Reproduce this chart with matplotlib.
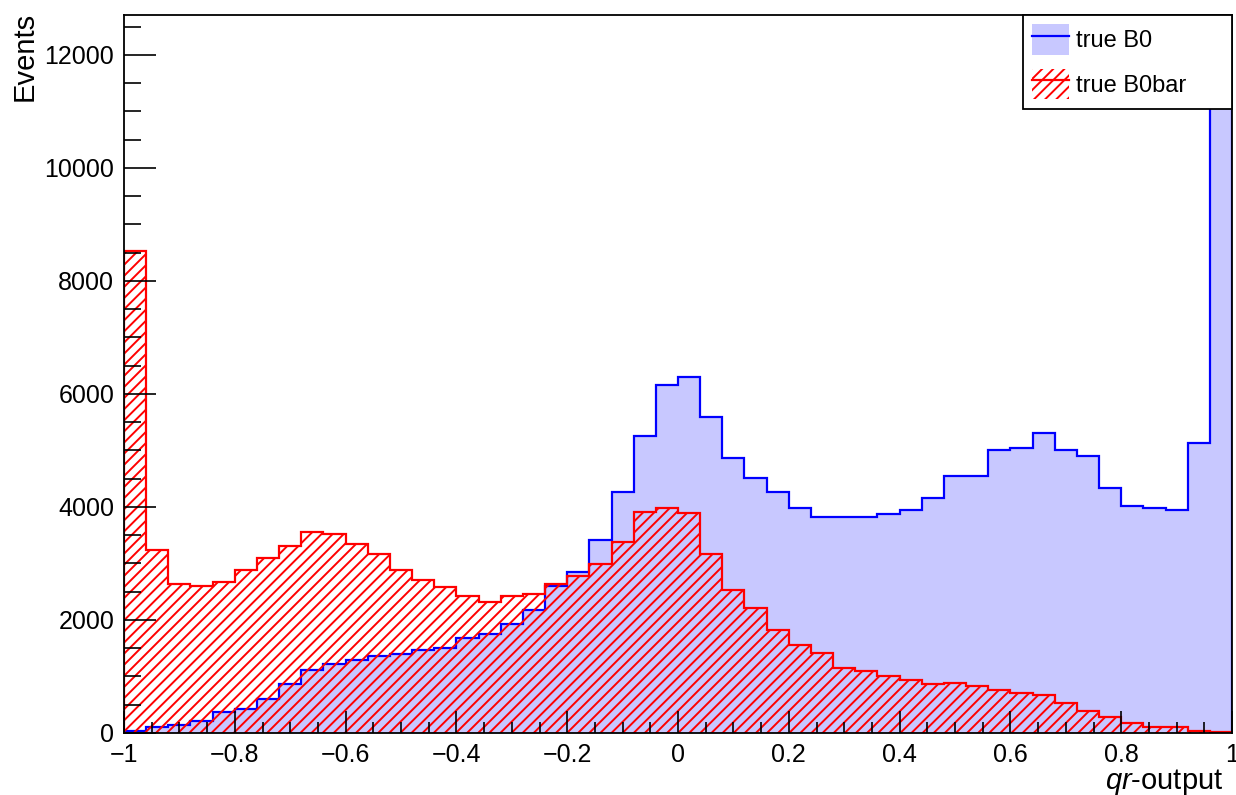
import numpy as np
import matplotlib
matplotlib.use("Agg")
import matplotlib.pyplot as plt
from matplotlib.patches import Patch
from matplotlib.lines import Line2D
from matplotlib.ticker import MultipleLocator, FuncFormatter

plt.rcParams["font.family"] = ["Liberation Sans", "DejaVu Sans"]
plt.rcParams["mathtext.fontset"] = "custom"
plt.rcParams["mathtext.it"] = "Liberation Sans:italic"
plt.rcParams["mathtext.rm"] = "Liberation Sans"
plt.rcParams["hatch.linewidth"] = 1.4

# 50 bins of qr-output between -1 and 1
bin_edges = np.linspace(-1, 1, 51)

true_b0 = [35, 106, 147, 213, 367, 431, 608, 863, 1111, 1217,
           1288, 1359, 1394, 1465, 1501, 1678, 1749, 1937, 2174, 2605,
           2848, 3418, 4272, 5264, 6156, 6298, 5583, 4874, 4520, 4272,
           3988, 3816, 3816, 3816, 3876, 3947, 4165, 4555, 4555, 5016,
           5051, 5305, 5016, 4910, 4342, 4018, 3988, 3953, 5128, 12100]

true_b0bar = [8530, 3238, 2635, 2600, 2676, 2884, 3096, 3314, 3557, 3527,
              3344, 3173, 2884, 2712, 2576, 2423, 2322, 2423, 2458, 2641,
              2777, 2985, 3380, 3908, 3982, 3885, 3173, 2529, 2210, 1820,
              1560, 1423, 1146, 1099, 1010, 937, 863, 892, 828, 757,
              715, 679, 532, 390, 289, 177, 112, 106, 41, 10]

labels = ["true B0", "true B0bar"]
fill_blue = "#c8c8ff"


def tick_fmt(v, pos):
    if abs(v) < 1e-9:
        return "0"
    if abs(abs(v) - 1) < 1e-9:
        s = "1"
    else:
        s = f"{abs(v):.1f}"
    return ("\u2212" + s) if v < 0 else s


fig = plt.figure(figsize=(12.36, 7.95), dpi=100)
ax = fig.add_axes([124 / 1236, 62 / 795, 1108 / 1236, 718 / 795])

# blue histogram: filled + outline
ax.stairs(true_b0, bin_edges, fill=True, facecolor=fill_blue, linewidth=0)
ax.stairs(true_b0, bin_edges, color="blue", linewidth=1.6)

# red histogram: hatched, no background
ax.stairs(true_b0bar, bin_edges, fill=True, facecolor="none", edgecolor="red",
          hatch="///", linewidth=0)
ax.stairs(true_b0bar, bin_edges, color="red", linewidth=1.6)

ax.set_xlim(-1, 1)
ax.set_ylim(0, 12705)

ax.xaxis.set_major_locator(MultipleLocator(0.2))
ax.xaxis.set_minor_locator(MultipleLocator(0.05))
ax.yaxis.set_major_locator(MultipleLocator(2000))
ax.yaxis.set_minor_locator(MultipleLocator(500))
ax.xaxis.set_major_formatter(FuncFormatter(tick_fmt))
ax.tick_params(which="both", direction="in", top=False, right=False,
               labelsize=18, width=1.2, colors="black")
ax.tick_params(axis="x", which="major", length=16, pad=7)
ax.tick_params(axis="x", which="minor", length=8)
ax.tick_params(axis="y", which="major", length=23, pad=7)
ax.tick_params(axis="y", which="minor", length=12)

for s in ax.spines.values():
    s.set_linewidth(1.3)

ax.set_xlabel(r"$qr$-output", fontsize=21, loc="right", va="baseline")
ax.xaxis.set_label_coords(0.992, -0.078)
ax.set_ylabel("Events", fontsize=21, loc="top")
ax.yaxis.set_label_coords(-0.077, 1.004)

handles = [
    (Patch(facecolor=fill_blue, edgecolor="none"), Line2D([], [], color="blue", linewidth=1.6)),
    (Patch(facecolor="none", edgecolor="red", hatch="///", linewidth=0), Line2D([], [], color="red", linewidth=1.6)),
]
x0 = (1023 - 124) / 1108
leg = ax.legend(handles, labels, loc="upper right",
                bbox_to_anchor=(x0, 0.0, 1.0 - x0, 1.0), mode="expand",
                borderaxespad=0, fontsize=17,
                fancybox=False, framealpha=1, edgecolor="black",
                handlelength=1.55, handleheight=1.6, handletextpad=0.3,
                borderpad=0.4, labelspacing=0.6)
leg.get_frame().set_linewidth(1.3)

fig.savefig("out.png", dpi=100)
